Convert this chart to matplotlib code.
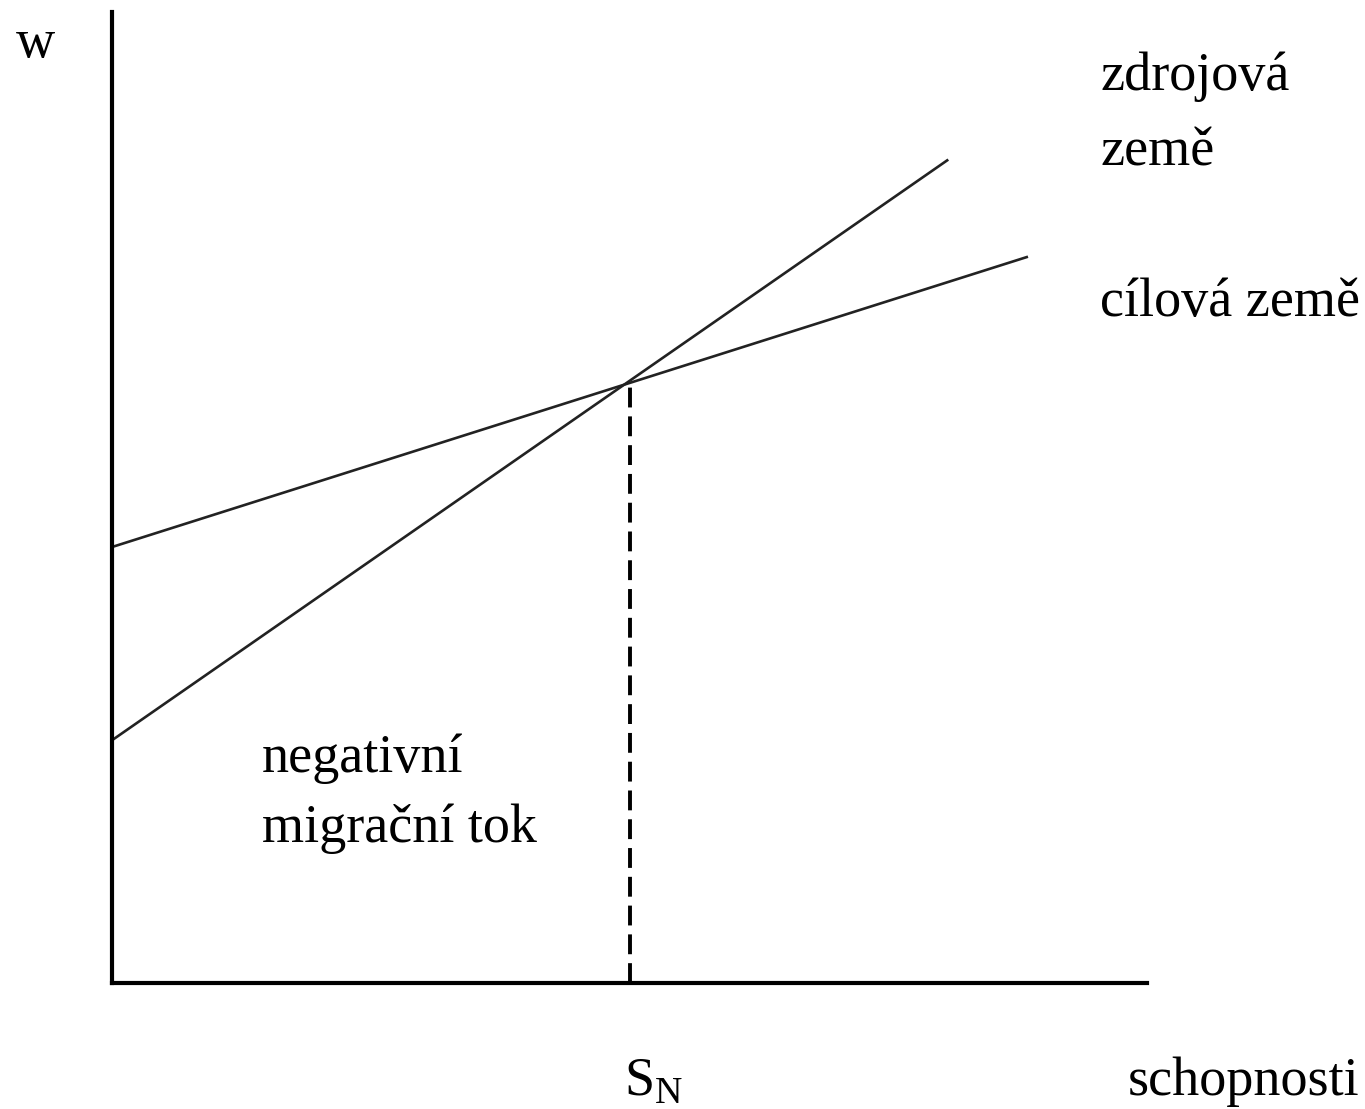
import matplotlib.pyplot as plt

# skill axis (schopnosti) and wage (w) in arbitrary units
s_zdroj = [0.0, 8.08]
w_zdroj = [2.50, 8.48]
s_cil = [0.0, 8.85]
w_cil = [4.49, 7.48]
s_N = 5.0
w_N = 6.18

W, H = 1365, 1109
fig = plt.figure(figsize=(W / 100, H / 100), dpi=100)
plt.rcParams['font.family'] = ['Liberation Serif', 'DejaVu Serif']

# axes box placed in pixels: left 112, right 1147, top 12, bottom 983
ax = fig.add_axes([112 / W, (H - 983) / H, (1147 - 112) / W, (983 - 12) / H])
ax.set_xlim(0, 10)
ax.set_ylim(0, 10)
for side in ['top', 'right']:
    ax.spines[side].set_visible(False)
for side in ['left', 'bottom']:
    ax.spines[side].set_linewidth(3)
ax.set_xticks([])
ax.set_yticks([])

ax.plot(s_zdroj, w_zdroj, color='#222222', lw=1.9, solid_capstyle='butt')
ax.plot(s_cil, w_cil, color='#222222', lw=1.9, solid_capstyle='butt')
ax.plot([s_N, s_N], [0, w_N], color='black', lw=2.8, linestyle=(0, (5.1, 2.3)))

fs = 39


def px_text(x, y, s, **kw):
    # x, y in pixels from the top-left corner, y is the baseline
    fig.text(x / W, 1 - y / H, s, fontsize=fs, va='baseline', ha='left', **kw)


px_text(16, 57, 'w')
px_text(1100, 90, 'zdrojová')
px_text(1100, 166, 'země')
px_text(1100, 316, 'cílová země')
px_text(262, 772, 'negativní')
px_text(262, 842, 'migrační tok')
px_text(624, 1095, r'S$_{\mathregular{N}}$')
px_text(1128, 1095, 'schopnosti')

fig.savefig('out.png', dpi=100)
